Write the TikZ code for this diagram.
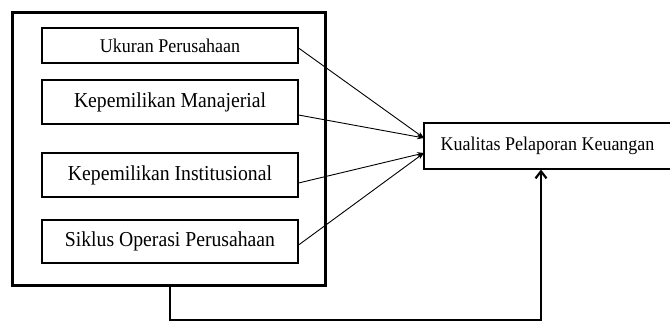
\documentclass[tikz,border=0pt]{standalone}
\usepackage{fontspec}
\setmainfont{Liberation Serif}
\usetikzlibrary{arrows.meta}
\newcommand{\stretchtxt}[2]{\scalebox{1}[1.08]{\fontsize{#1}{#1}\selectfont #2}}
\begin{document}
\begin{tikzpicture}[x=1pt,y=-1pt,
  inbox/.style={draw,line width=1.1pt,inner sep=0pt,minimum width=256,anchor=center},
  conn/.style={line width=0.9pt,-{Stealth[length=7pt,width=5pt]}},
  thick conn/.style={line width=2.8pt,-{Straight Barb[length=7pt,width=11pt,line width=2.2pt]}}]
\useasboundingbox (0,0) rectangle (670,322);
\clip (0,0) rectangle (670,322);
\node[draw,line width=3pt,minimum width=313,minimum height=273,inner sep=0pt] (outer) at (168.5,148.5) {};
\node[inbox,minimum height=35] (u) at (170,45.5) {\stretchtxt{18}{Ukuran Perusahaan}};
\node[inbox,minimum height=44] (m) at (170,102) {\stretchtxt{19.7}{Kepemilikan Manajerial}};
\node[inbox,minimum height=44] (i) at (170,175) {\stretchtxt{19.7}{Kepemilikan Institusional}};
\node[inbox,minimum height=43] (s) at (170,241.5) {\stretchtxt{19.7}{Siklus Operasi Perusahaan}};
\node[draw,line width=1.1pt,minimum width=247,minimum height=46,inner sep=0pt] (k) at (547.5,146) {\stretchtxt{18}{Kualitas Pelaporan Keuangan}};
\coordinate (ka) at (424,138);
\coordinate (kb) at (424,153);
\draw[conn] (u.east |- 0,48) -- (ka);
\draw[conn] (m.east |- 0,115) -- (ka);
\draw[conn] (i.east |- 0,183) -- (kb);
\draw[conn] (s.east |- 0,245) -- (kb);
\coordinate (b2) at (170,320);
\coordinate (b3) at (541,320);
\draw[thick conn] (outer.south -| b2) -- (b2) -- (b3) -- (k.south -| b3);
\end{tikzpicture}
\end{document}
